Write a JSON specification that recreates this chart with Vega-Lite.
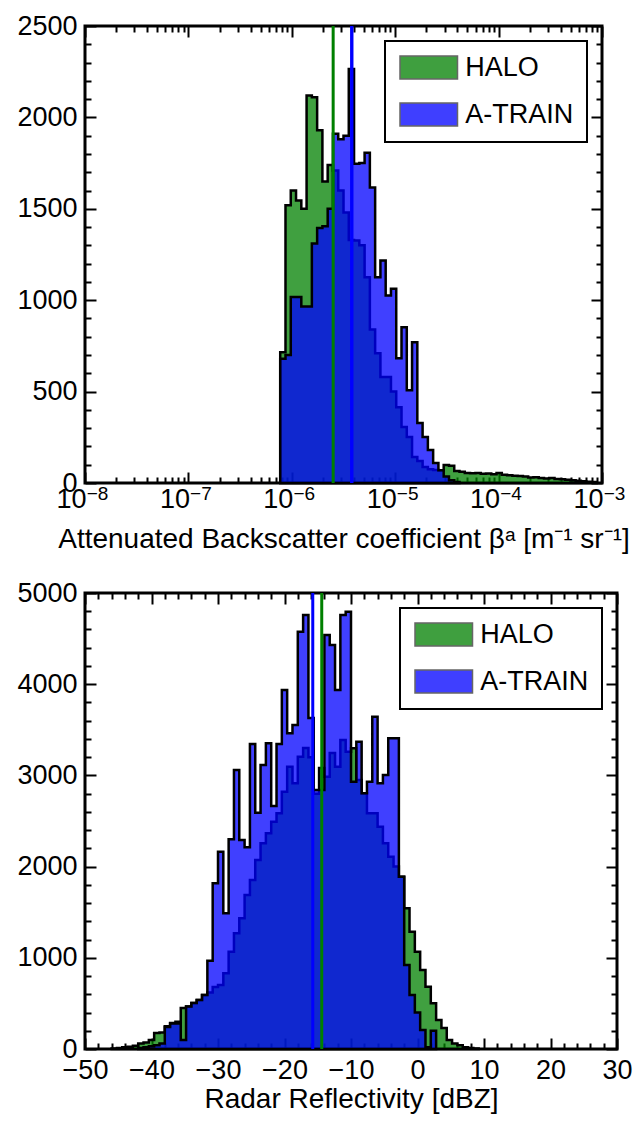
{
  "$schema": "https://vega.github.io/schema/vega-lite/v6.json",
  "background": "white",
  "padding": {"left": 15, "top": 10, "right": 0, "bottom": 4},
  "spacing": 22,
  "config": {
    "font": "Liberation Sans",
    "view": {"stroke": "black", "strokeWidth": 3},
    "axis": {
      "grid": false,
      "domain": false,
      "tickColor": "black",
      "tickWidth": 2,
      "labelFontSize": 27,
      "labelColor": "black",
      "labelFlush": false,
      "labelOverlap": false,
      "titleFontSize": 28,
      "titleFontWeight": "normal",
      "titleColor": "black"
    },
    "legend": {
      "title": null,
      "orient": "top-right",
      "offset": 15,
      "strokeColor": "black",
      "strokeWidth": 2,
      "fillColor": "white",
      "padding": 13,
      "cornerRadius": 0,
      "symbolType": "M-2.5,-1H2.5V1H-2.5Z",
      "symbolSize": 529,
      "symbolOffset": 17.25,
      "symbolStrokeColor": "#333333",
      "symbolStrokeWidth": 1.5,
      "symbolOpacity": 0.75,
      "labelFontSize": 27,
      "labelColor": "black",
      "labelOffset": 23,
      "rowPadding": 18
    }
  },
  "resolve": {"scale": {"color": "independent"}},
  "datasets": {
    "backscatter": [
      {"src": "HALO", "log10_beta": -6.112, "count": 715},
      {"src": "HALO", "log10_beta": -6.061, "count": 1520},
      {"src": "HALO", "log10_beta": -6.010, "count": 1600},
      {"src": "HALO", "log10_beta": -5.959, "count": 1545},
      {"src": "HALO", "log10_beta": -5.908, "count": 1500},
      {"src": "HALO", "log10_beta": -5.857, "count": 2120},
      {"src": "HALO", "log10_beta": -5.806, "count": 2110},
      {"src": "HALO", "log10_beta": -5.755, "count": 1930},
      {"src": "HALO", "log10_beta": -5.704, "count": 1650},
      {"src": "HALO", "log10_beta": -5.653, "count": 1740},
      {"src": "HALO", "log10_beta": -5.602, "count": 1710},
      {"src": "HALO", "log10_beta": -5.551, "count": 1600},
      {"src": "HALO", "log10_beta": -5.500, "count": 1480},
      {"src": "HALO", "log10_beta": -5.449, "count": 1330},
      {"src": "HALO", "log10_beta": -5.398, "count": 1326},
      {"src": "HALO", "log10_beta": -5.347, "count": 1300},
      {"src": "HALO", "log10_beta": -5.296, "count": 1125},
      {"src": "HALO", "log10_beta": -5.245, "count": 840},
      {"src": "HALO", "log10_beta": -5.194, "count": 710},
      {"src": "HALO", "log10_beta": -5.143, "count": 580},
      {"src": "HALO", "log10_beta": -5.092, "count": 580},
      {"src": "HALO", "log10_beta": -5.041, "count": 500},
      {"src": "HALO", "log10_beta": -4.990, "count": 415},
      {"src": "HALO", "log10_beta": -4.939, "count": 306},
      {"src": "HALO", "log10_beta": -4.888, "count": 251},
      {"src": "HALO", "log10_beta": -4.837, "count": 142},
      {"src": "HALO", "log10_beta": -4.786, "count": 120},
      {"src": "HALO", "log10_beta": -4.735, "count": 87},
      {"src": "HALO", "log10_beta": -4.684, "count": 75},
      {"src": "HALO", "log10_beta": -4.633, "count": 71},
      {"src": "HALO", "log10_beta": -4.582, "count": 70},
      {"src": "HALO", "log10_beta": -4.531, "count": 98},
      {"src": "HALO", "log10_beta": -4.480, "count": 95},
      {"src": "HALO", "log10_beta": -4.429, "count": 65},
      {"src": "HALO", "log10_beta": -4.378, "count": 62},
      {"src": "HALO", "log10_beta": -4.327, "count": 55},
      {"src": "HALO", "log10_beta": -4.276, "count": 53},
      {"src": "HALO", "log10_beta": -4.224, "count": 55},
      {"src": "HALO", "log10_beta": -4.173, "count": 50},
      {"src": "HALO", "log10_beta": -4.122, "count": 52},
      {"src": "HALO", "log10_beta": -4.071, "count": 48},
      {"src": "HALO", "log10_beta": -4.020, "count": 55},
      {"src": "HALO", "log10_beta": -3.969, "count": 45},
      {"src": "HALO", "log10_beta": -3.918, "count": 42},
      {"src": "HALO", "log10_beta": -3.867, "count": 40},
      {"src": "HALO", "log10_beta": -3.816, "count": 38},
      {"src": "HALO", "log10_beta": -3.765, "count": 35},
      {"src": "HALO", "log10_beta": -3.714, "count": 30},
      {"src": "HALO", "log10_beta": -3.663, "count": 32},
      {"src": "HALO", "log10_beta": -3.612, "count": 28},
      {"src": "HALO", "log10_beta": -3.561, "count": 25},
      {"src": "HALO", "log10_beta": -3.510, "count": 27},
      {"src": "HALO", "log10_beta": -3.459, "count": 22},
      {"src": "HALO", "log10_beta": -3.408, "count": 20},
      {"src": "HALO", "log10_beta": -3.357, "count": 18},
      {"src": "HALO", "log10_beta": -3.306, "count": 15},
      {"src": "HALO", "log10_beta": -3.255, "count": 12},
      {"src": "HALO", "log10_beta": -3.204, "count": 10},
      {"src": "HALO", "log10_beta": -3.153, "count": 7},
      {"src": "HALO", "log10_beta": -3.102, "count": 5},
      {"src": "HALO", "log10_beta": -3.051, "count": 0},
      {"src": "A-TRAIN", "log10_beta": -6.112, "count": 680},
      {"src": "A-TRAIN", "log10_beta": -6.061, "count": 700},
      {"src": "A-TRAIN", "log10_beta": -6.010, "count": 1017},
      {"src": "A-TRAIN", "log10_beta": -5.959, "count": 1017},
      {"src": "A-TRAIN", "log10_beta": -5.908, "count": 965},
      {"src": "A-TRAIN", "log10_beta": -5.857, "count": 965},
      {"src": "A-TRAIN", "log10_beta": -5.806, "count": 1310},
      {"src": "A-TRAIN", "log10_beta": -5.755, "count": 1395},
      {"src": "A-TRAIN", "log10_beta": -5.704, "count": 1405},
      {"src": "A-TRAIN", "log10_beta": -5.653, "count": 1500},
      {"src": "A-TRAIN", "log10_beta": -5.602, "count": 1910},
      {"src": "A-TRAIN", "log10_beta": -5.551, "count": 1880},
      {"src": "A-TRAIN", "log10_beta": -5.500, "count": 1900},
      {"src": "A-TRAIN", "log10_beta": -5.449, "count": 2265},
      {"src": "A-TRAIN", "log10_beta": -5.398, "count": 1747},
      {"src": "A-TRAIN", "log10_beta": -5.347, "count": 1750},
      {"src": "A-TRAIN", "log10_beta": -5.296, "count": 1807},
      {"src": "A-TRAIN", "log10_beta": -5.245, "count": 1617},
      {"src": "A-TRAIN", "log10_beta": -5.194, "count": 1126},
      {"src": "A-TRAIN", "log10_beta": -5.143, "count": 1217},
      {"src": "A-TRAIN", "log10_beta": -5.092, "count": 1026},
      {"src": "A-TRAIN", "log10_beta": -5.041, "count": 1063},
      {"src": "A-TRAIN", "log10_beta": -4.990, "count": 682},
      {"src": "A-TRAIN", "log10_beta": -4.939, "count": 852},
      {"src": "A-TRAIN", "log10_beta": -4.888, "count": 508},
      {"src": "A-TRAIN", "log10_beta": -4.837, "count": 770},
      {"src": "A-TRAIN", "log10_beta": -4.786, "count": 328},
      {"src": "A-TRAIN", "log10_beta": -4.735, "count": 251},
      {"src": "A-TRAIN", "log10_beta": -4.684, "count": 180},
      {"src": "A-TRAIN", "log10_beta": -4.633, "count": 109},
      {"src": "A-TRAIN", "log10_beta": -4.582, "count": 70},
      {"src": "A-TRAIN", "log10_beta": -4.531, "count": 35},
      {"src": "A-TRAIN", "log10_beta": -4.480, "count": 15},
      {"src": "A-TRAIN", "log10_beta": -4.429, "count": 5},
      {"src": "A-TRAIN", "log10_beta": -4.378, "count": 0}
    ],
    "reflectivity": [
      {"src": "HALO", "dbz": -46.0, "count": 5},
      {"src": "HALO", "dbz": -45.2, "count": 10},
      {"src": "HALO", "dbz": -44.4, "count": 20},
      {"src": "HALO", "dbz": -43.6, "count": 25},
      {"src": "HALO", "dbz": -42.8, "count": 35},
      {"src": "HALO", "dbz": -42.0, "count": 60},
      {"src": "HALO", "dbz": -41.2, "count": 70},
      {"src": "HALO", "dbz": -40.4, "count": 100},
      {"src": "HALO", "dbz": -39.6, "count": 175},
      {"src": "HALO", "dbz": -38.8, "count": 180},
      {"src": "HALO", "dbz": -38.0, "count": 250},
      {"src": "HALO", "dbz": -37.2, "count": 285},
      {"src": "HALO", "dbz": -36.4, "count": 300},
      {"src": "HALO", "dbz": -35.6, "count": 450},
      {"src": "HALO", "dbz": -34.8, "count": 465},
      {"src": "HALO", "dbz": -34.0, "count": 504},
      {"src": "HALO", "dbz": -33.2, "count": 537},
      {"src": "HALO", "dbz": -32.4, "count": 592},
      {"src": "HALO", "dbz": -31.6, "count": 620},
      {"src": "HALO", "dbz": -30.8, "count": 680},
      {"src": "HALO", "dbz": -30.0, "count": 702},
      {"src": "HALO", "dbz": -29.2, "count": 830},
      {"src": "HALO", "dbz": -28.4, "count": 1067},
      {"src": "HALO", "dbz": -27.6, "count": 1269},
      {"src": "HALO", "dbz": -26.8, "count": 1433},
      {"src": "HALO", "dbz": -26.0, "count": 1689},
      {"src": "HALO", "dbz": -25.2, "count": 1853},
      {"src": "HALO", "dbz": -24.4, "count": 2072},
      {"src": "HALO", "dbz": -23.6, "count": 2255},
      {"src": "HALO", "dbz": -22.8, "count": 2365},
      {"src": "HALO", "dbz": -22.0, "count": 2492},
      {"src": "HALO", "dbz": -21.2, "count": 2584},
      {"src": "HALO", "dbz": -20.4, "count": 2821},
      {"src": "HALO", "dbz": -19.6, "count": 3096},
      {"src": "HALO", "dbz": -18.8, "count": 2913},
      {"src": "HALO", "dbz": -18.0, "count": 3205},
      {"src": "HALO", "dbz": -17.2, "count": 3300},
      {"src": "HALO", "dbz": -16.4, "count": 3200},
      {"src": "HALO", "dbz": -15.6, "count": 2800},
      {"src": "HALO", "dbz": -14.8, "count": 3081},
      {"src": "HALO", "dbz": -14.0, "count": 2986},
      {"src": "HALO", "dbz": -13.2, "count": 3245},
      {"src": "HALO", "dbz": -12.4, "count": 3095},
      {"src": "HALO", "dbz": -11.6, "count": 3388},
      {"src": "HALO", "dbz": -10.8, "count": 3260},
      {"src": "HALO", "dbz": -10.0, "count": 3297},
      {"src": "HALO", "dbz": -9.2, "count": 2950},
      {"src": "HALO", "dbz": -8.4, "count": 2803},
      {"src": "HALO", "dbz": -7.6, "count": 2584},
      {"src": "HALO", "dbz": -6.8, "count": 2584},
      {"src": "HALO", "dbz": -6.0, "count": 2438},
      {"src": "HALO", "dbz": -5.2, "count": 2255},
      {"src": "HALO", "dbz": -4.4, "count": 2109},
      {"src": "HALO", "dbz": -3.6, "count": 2000},
      {"src": "HALO", "dbz": -2.8, "count": 1889},
      {"src": "HALO", "dbz": -2.0, "count": 1543},
      {"src": "HALO", "dbz": -1.2, "count": 1286},
      {"src": "HALO", "dbz": -0.4, "count": 1067},
      {"src": "HALO", "dbz": 0.4, "count": 866},
      {"src": "HALO", "dbz": 1.2, "count": 683},
      {"src": "HALO", "dbz": 2.0, "count": 501},
      {"src": "HALO", "dbz": 2.8, "count": 318},
      {"src": "HALO", "dbz": 3.6, "count": 230},
      {"src": "HALO", "dbz": 4.4, "count": 99},
      {"src": "HALO", "dbz": 5.2, "count": 60},
      {"src": "HALO", "dbz": 6.0, "count": 40},
      {"src": "HALO", "dbz": 6.8, "count": 20},
      {"src": "HALO", "dbz": 7.6, "count": 10},
      {"src": "HALO", "dbz": 8.4, "count": 5},
      {"src": "HALO", "dbz": 9.2, "count": 0},
      {"src": "A-TRAIN", "dbz": -42.0, "count": 10},
      {"src": "A-TRAIN", "dbz": -41.2, "count": 20},
      {"src": "A-TRAIN", "dbz": -40.4, "count": 30},
      {"src": "A-TRAIN", "dbz": -39.6, "count": 40},
      {"src": "A-TRAIN", "dbz": -38.8, "count": 60},
      {"src": "A-TRAIN", "dbz": -38.0, "count": 240},
      {"src": "A-TRAIN", "dbz": -37.2, "count": 280},
      {"src": "A-TRAIN", "dbz": -36.4, "count": 280},
      {"src": "A-TRAIN", "dbz": -35.6, "count": 99},
      {"src": "A-TRAIN", "dbz": -34.8, "count": 465},
      {"src": "A-TRAIN", "dbz": -34.0, "count": 504},
      {"src": "A-TRAIN", "dbz": -33.2, "count": 537},
      {"src": "A-TRAIN", "dbz": -32.4, "count": 592},
      {"src": "A-TRAIN", "dbz": -31.6, "count": 968},
      {"src": "A-TRAIN", "dbz": -30.8, "count": 1817},
      {"src": "A-TRAIN", "dbz": -30.0, "count": 2163},
      {"src": "A-TRAIN", "dbz": -29.2, "count": 1488},
      {"src": "A-TRAIN", "dbz": -28.4, "count": 2299},
      {"src": "A-TRAIN", "dbz": -27.6, "count": 3059},
      {"src": "A-TRAIN", "dbz": -26.8, "count": 2292},
      {"src": "A-TRAIN", "dbz": -26.0, "count": 2211},
      {"src": "A-TRAIN", "dbz": -25.2, "count": 3344},
      {"src": "A-TRAIN", "dbz": -24.4, "count": 2591},
      {"src": "A-TRAIN", "dbz": -23.6, "count": 3114},
      {"src": "A-TRAIN", "dbz": -22.8, "count": 3352},
      {"src": "A-TRAIN", "dbz": -22.0, "count": 2664},
      {"src": "A-TRAIN", "dbz": -21.2, "count": 3344},
      {"src": "A-TRAIN", "dbz": -20.4, "count": 3936},
      {"src": "A-TRAIN", "dbz": -19.6, "count": 3461},
      {"src": "A-TRAIN", "dbz": -18.8, "count": 3553},
      {"src": "A-TRAIN", "dbz": -18.0, "count": 4576},
      {"src": "A-TRAIN", "dbz": -17.2, "count": 4759},
      {"src": "A-TRAIN", "dbz": -16.4, "count": 3629},
      {"src": "A-TRAIN", "dbz": -15.6, "count": 2840},
      {"src": "A-TRAIN", "dbz": -14.8, "count": 2840},
      {"src": "A-TRAIN", "dbz": -14.0, "count": 4539},
      {"src": "A-TRAIN", "dbz": -13.2, "count": 4430},
      {"src": "A-TRAIN", "dbz": -12.4, "count": 3936},
      {"src": "A-TRAIN", "dbz": -11.6, "count": 4759},
      {"src": "A-TRAIN", "dbz": -10.8, "count": 4795},
      {"src": "A-TRAIN", "dbz": -10.0, "count": 2931},
      {"src": "A-TRAIN", "dbz": -9.2, "count": 3370},
      {"src": "A-TRAIN", "dbz": -8.4, "count": 2803},
      {"src": "A-TRAIN", "dbz": -7.6, "count": 2931},
      {"src": "A-TRAIN", "dbz": -6.8, "count": 3644},
      {"src": "A-TRAIN", "dbz": -6.0, "count": 2913},
      {"src": "A-TRAIN", "dbz": -5.2, "count": 3004},
      {"src": "A-TRAIN", "dbz": -4.4, "count": 3407},
      {"src": "A-TRAIN", "dbz": -3.6, "count": 3407},
      {"src": "A-TRAIN", "dbz": -2.8, "count": 1889},
      {"src": "A-TRAIN", "dbz": -2.0, "count": 921},
      {"src": "A-TRAIN", "dbz": -1.2, "count": 592},
      {"src": "A-TRAIN", "dbz": -0.4, "count": 400},
      {"src": "A-TRAIN", "dbz": 0.4, "count": 208},
      {"src": "A-TRAIN", "dbz": 1.2, "count": 20},
      {"src": "A-TRAIN", "dbz": 2.0, "count": 200},
      {"src": "A-TRAIN", "dbz": 2.8, "count": 0}
    ],
    "backscatter_medians": [
      {"src": "HALO", "log10_beta": -5.6},
      {"src": "A-TRAIN", "log10_beta": -5.42}
    ],
    "reflectivity_medians": [
      {"src": "HALO", "dbz": -14.4},
      {"src": "A-TRAIN", "dbz": -15.75}
    ]
  },
  "vconcat": [
    {
      "width": 517,
      "height": 457,
      "resolve": {"axis": {"x": "independent", "y": "independent"}},
      "layer": [
        {
          "data": {"name": "backscatter"},
          "transform": [{"filter": "datum.src === 'HALO'"}],
          "mark": {"type": "area", "interpolate": "step-after", "fillOpacity": 0.75, "stroke": "black", "strokeWidth": 2.5, "strokeJoin": "miter"},
          "encoding": {
            "x": {"field": "log10_beta", "type": "quantitative", "scale": {"domain": [-8, -3], "nice": false, "zero": false},
              "axis": {"orient": "bottom", "values": [-8, -7, -6, -5, -4, -3], "tickSize": -11, "labelPadding": 14,
                "labelExpr": "'10'", "labelOffset": -14,
                "title": "Attenuated Backscatter coefficient βᵃ [m⁻¹ sr⁻¹]", "titlePadding": 13}},
            "y": {"field": "count", "type": "quantitative", "stack": null, "scale": {"domain": [0, 2500], "nice": false},
              "axis": {"orient": "left", "values": [0, 500, 1000, 1500, 2000, 2500], "format": "d", "tickSize": -11, "labelPadding": 19, "title": null}},
            "color": {"field": "src", "type": "nominal", "scale": {"domain": ["HALO", "A-TRAIN"], "range": ["#008000", "#0000ff"]}}
          }
        },
        {
          "data": {"name": "backscatter"},
          "transform": [{"filter": "datum.src === 'A-TRAIN'"}],
          "mark": {"type": "area", "interpolate": "step-after", "fillOpacity": 0.75, "stroke": "black", "strokeWidth": 2.5, "strokeJoin": "miter"},
          "encoding": {
            "x": {"field": "log10_beta", "type": "quantitative", "scale": {"domain": [-8, -3], "nice": false, "zero": false},
              "axis": {"orient": "bottom", "labels": false, "title": null, "tickSize": -6,
                "values": [-7.69897, -7.52288, -7.39794, -7.30103, -7.22185, -7.1549, -7.09691, -7.04576, -6.69897, -6.52288, -6.39794, -6.30103, -6.22185, -6.1549, -6.09691, -6.04576, -5.69897, -5.52288, -5.39794, -5.30103, -5.22185, -5.1549, -5.09691, -5.04576, -4.69897, -4.52288, -4.39794, -4.30103, -4.22185, -4.1549, -4.09691, -4.04576, -3.69897, -3.52288, -3.39794, -3.30103, -3.22185, -3.1549, -3.09691, -3.04576]}},
            "y": {"field": "count", "type": "quantitative", "stack": null, "scale": {"domain": [0, 2500], "nice": false},
              "axis": {"orient": "left", "labels": false, "title": null, "tickSize": -6,
                "values": [100, 200, 300, 400, 600, 700, 800, 900, 1100, 1200, 1300, 1400, 1600, 1700, 1800, 1900, 2100, 2200, 2300, 2400]}},
            "color": {"field": "src", "type": "nominal", "scale": {"domain": ["HALO", "A-TRAIN"], "range": ["#008000", "#0000ff"]}}
          }
        },
        {
          "data": {"name": "backscatter_medians"},
          "transform": [{"filter": "datum.src === 'HALO'"}],
          "mark": {"type": "rule", "color": "#008000", "strokeWidth": 3},
          "encoding": {
            "x": {"field": "log10_beta", "type": "quantitative", "scale": {"domain": [-8, -3], "nice": false, "zero": false},
              "axis": {"orient": "top", "labels": false, "title": null, "tickSize": -11, "values": [-8, -7, -6, -5, -4, -3]}},
            "y": {"datum": 0, "type": "quantitative", "scale": {"domain": [0, 2500], "nice": false},
              "axis": {"orient": "right", "labels": false, "title": null, "tickSize": -11, "values": [0, 500, 1000, 1500, 2000, 2500]}},
            "y2": {"datum": 2500}
          }
        },
        {
          "data": {"name": "backscatter_medians"},
          "transform": [{"filter": "datum.src === 'A-TRAIN'"}],
          "mark": {"type": "rule", "color": "#0000ff", "strokeWidth": 3},
          "encoding": {
            "x": {"field": "log10_beta", "type": "quantitative", "scale": {"domain": [-8, -3], "nice": false, "zero": false},
              "axis": {"orient": "top", "labels": false, "title": null, "tickSize": -6,
                "values": [-7.69897, -7.52288, -7.39794, -7.30103, -7.22185, -7.1549, -7.09691, -7.04576, -6.69897, -6.52288, -6.39794, -6.30103, -6.22185, -6.1549, -6.09691, -6.04576, -5.69897, -5.52288, -5.39794, -5.30103, -5.22185, -5.1549, -5.09691, -5.04576, -4.69897, -4.52288, -4.39794, -4.30103, -4.22185, -4.1549, -4.09691, -4.04576, -3.69897, -3.52288, -3.39794, -3.30103, -3.22185, -3.1549, -3.09691, -3.04576]}},
            "y": {"datum": 0, "type": "quantitative", "scale": {"domain": [0, 2500], "nice": false},
              "axis": {"orient": "right", "labels": false, "title": null, "tickSize": -6,
                "values": [100, 200, 300, 400, 600, 700, 800, 900, 1100, 1200, 1300, 1400, 1600, 1700, 1800, 1900, 2100, 2200, 2300, 2400]}},
            "y2": {"datum": 2500}
          }
        },
        {
          "data": {"name": "backscatter_medians"},
          "transform": [{"filter": "datum.src === 'A-TRAIN'"}],
          "mark": {"type": "rule", "color": "#0000ff", "strokeWidth": 3},
          "encoding": {
            "x": {"field": "log10_beta", "type": "quantitative", "scale": {"domain": [-8, -3], "nice": false, "zero": false},
              "axis": {"orient": "bottom", "values": [-8, -7, -6, -5, -4, -3], "ticks": false, "title": null,
                "labelExpr": "'−' + abs(datum.value)", "labelFontSize": 19, "labelPadding": 1, "labelOffset": 12}},
            "y": {"datum": 0, "type": "quantitative", "scale": {"domain": [0, 2500], "nice": false}, "axis": null},
            "y2": {"datum": 2500}
          }
        }
      ]
    },
    {
      "width": 532,
      "height": 456,
      "resolve": {"axis": {"x": "independent", "y": "independent"}},
      "layer": [
        {
          "data": {"name": "reflectivity"},
          "transform": [{"filter": "datum.src === 'HALO'"}],
          "mark": {"type": "area", "interpolate": "step-after", "fillOpacity": 0.75, "stroke": "black", "strokeWidth": 2.5, "strokeJoin": "miter"},
          "encoding": {
            "x": {"field": "dbz", "type": "quantitative", "scale": {"domain": [-50, 30], "nice": false, "zero": false},
              "axis": {"orient": "bottom", "values": [-50, -40, -30, -20, -10, 0, 10, 20, 30], "tickSize": -11, "labelPadding": 19,
                "title": "Radar Reflectivity [dBZ]", "titlePadding": 2}},
            "y": {"field": "count", "type": "quantitative", "stack": null, "scale": {"domain": [0, 5000], "nice": false},
              "axis": {"orient": "left", "values": [0, 1000, 2000, 3000, 4000, 5000], "format": "d", "tickSize": -11, "labelPadding": 19, "title": null}},
            "color": {"field": "src", "type": "nominal", "scale": {"domain": ["HALO", "A-TRAIN"], "range": ["#008000", "#0000ff"]}}
          }
        },
        {
          "data": {"name": "reflectivity"},
          "transform": [{"filter": "datum.src === 'A-TRAIN'"}],
          "mark": {"type": "area", "interpolate": "step-after", "fillOpacity": 0.75, "stroke": "black", "strokeWidth": 2.5, "strokeJoin": "miter"},
          "encoding": {
            "x": {"field": "dbz", "type": "quantitative", "scale": {"domain": [-50, 30], "nice": false, "zero": false},
              "axis": {"orient": "bottom", "labels": false, "title": null, "tickSize": -6,
                "values": [-48, -46, -44, -42, -38, -36, -34, -32, -28, -26, -24, -22, -18, -16, -14, -12, -8, -6, -4, -2, 2, 4, 6, 8, 12, 14, 16, 18, 22, 24, 26, 28]}},
            "y": {"field": "count", "type": "quantitative", "stack": null, "scale": {"domain": [0, 5000], "nice": false},
              "axis": {"orient": "left", "labels": false, "title": null, "tickSize": -6,
                "values": [200, 400, 600, 800, 1200, 1400, 1600, 1800, 2200, 2400, 2600, 2800, 3200, 3400, 3600, 3800, 4200, 4400, 4600, 4800]}},
            "color": {"field": "src", "type": "nominal", "scale": {"domain": ["HALO", "A-TRAIN"], "range": ["#008000", "#0000ff"]}}
          }
        },
        {
          "data": {"name": "reflectivity_medians"},
          "transform": [{"filter": "datum.src === 'HALO'"}],
          "mark": {"type": "rule", "color": "#008000", "strokeWidth": 3},
          "encoding": {
            "x": {"field": "dbz", "type": "quantitative", "scale": {"domain": [-50, 30], "nice": false, "zero": false},
              "axis": {"orient": "top", "labels": false, "title": null, "tickSize": -11, "values": [-50, -40, -30, -20, -10, 0, 10, 20, 30]}},
            "y": {"datum": 0, "type": "quantitative", "scale": {"domain": [0, 5000], "nice": false},
              "axis": {"orient": "right", "labels": false, "title": null, "tickSize": -11, "values": [0, 1000, 2000, 3000, 4000, 5000]}},
            "y2": {"datum": 5000}
          }
        },
        {
          "data": {"name": "reflectivity_medians"},
          "transform": [{"filter": "datum.src === 'A-TRAIN'"}],
          "mark": {"type": "rule", "color": "#0000ff", "strokeWidth": 3},
          "encoding": {
            "x": {"field": "dbz", "type": "quantitative", "scale": {"domain": [-50, 30], "nice": false, "zero": false},
              "axis": {"orient": "top", "labels": false, "title": null, "tickSize": -6,
                "values": [-48, -46, -44, -42, -38, -36, -34, -32, -28, -26, -24, -22, -18, -16, -14, -12, -8, -6, -4, -2, 2, 4, 6, 8, 12, 14, 16, 18, 22, 24, 26, 28]}},
            "y": {"datum": 0, "type": "quantitative", "scale": {"domain": [0, 5000], "nice": false},
              "axis": {"orient": "right", "labels": false, "title": null, "tickSize": -6,
                "values": [200, 400, 600, 800, 1200, 1400, 1600, 1800, 2200, 2400, 2600, 2800, 3200, 3400, 3600, 3800, 4200, 4400, 4600, 4800]}},
            "y2": {"datum": 5000}
          }
        }
      ]
    }
  ]
}
